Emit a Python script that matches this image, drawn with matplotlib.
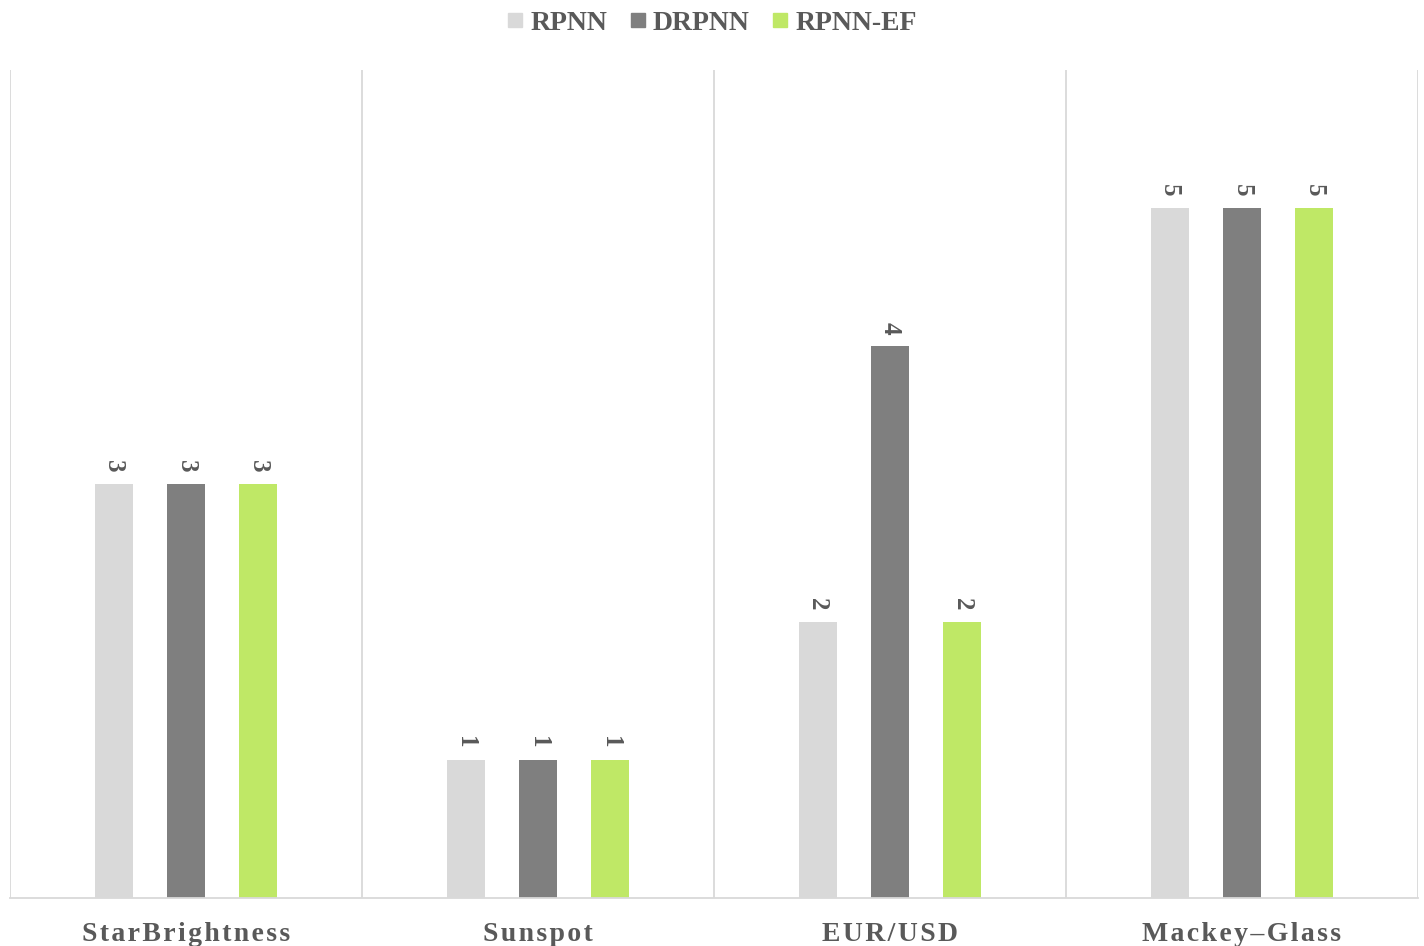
import matplotlib
matplotlib.use("Agg")
import matplotlib.pyplot as plt
from matplotlib.lines import Line2D
import numpy as np

categories = ["StarBrightness", "Sunspot", "EUR/USD", "Mackey\u2013Glass"]
series_names = ["RPNN", "DRPNN", "RPNN-EF"]
rpnn = [3, 1, 2, 5]
drpnn = [3, 1, 4, 5]
rpnn_ef = [3, 1, 2, 5]
colors = ["#d9d9d9", "#7f7f7f", "#bfe866"]
text_color = "#595959"

plt.rcParams['font.family'] = ['Liberation Serif', 'DejaVu Serif']

fig = plt.figure(figsize=(14.24, 9.46), dpi=100)
ax = fig.add_axes([10/1424, (946-898)/946, (1418-10)/1424, (898-70)/946])

x = np.arange(len(categories))
offsets = [-0.205, 0.0, 0.205]
width = 0.108
for vals, off, col in zip([rpnn, drpnn, rpnn_ef], offsets, colors):
    bars = ax.bar(x + off, vals, width=width, color=col, zorder=2)
    for b, v in zip(bars, vals):
        ax.annotate(str(v), (b.get_x() + b.get_width()/2, v), xytext=(0, 8),
                    textcoords="offset points", rotation=-90, ha="center", va="bottom",
                    fontsize=18, color=text_color, fontweight="bold")

ax.set_xlim(-0.5, len(categories) - 0.5)
ax.set_ylim(0, 6)
for b in np.arange(-0.5, len(categories), 1.0):
    ax.axvline(b, color="#d9d9d9", lw=1.3, zorder=1)
for s in ["top", "left", "right"]:
    ax.spines[s].set_visible(False)
ax.spines["bottom"].set_color("#d9d9d9")
ax.spines["bottom"].set_linewidth(1.3)
ax.set_yticks([])
ax.set_xticks(x)
spaced = ["\u200a".join(c) for c in categories]
ax.set_xticklabels(spaced, fontsize=20, fontweight="bold", color=text_color)
ax.tick_params(axis="x", length=0, pad=17)

handles = [Line2D([0], [0], marker="s", linestyle="none", markersize=10,
                  markerfacecolor=c, markeredgecolor=c) for c in colors]
fig.legend(handles, series_names, loc="center", bbox_to_anchor=(0.5, 1 - 23/946),
           ncol=3, frameon=False, handlelength=0.6, handletextpad=0.25, columnspacing=0.8,
           prop={"size": 20, "weight": "bold"}, labelcolor=text_color)

fig.savefig("out.png", dpi=100)
